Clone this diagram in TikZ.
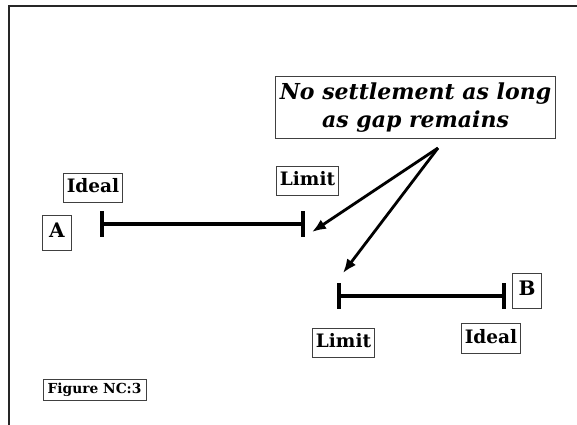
\documentclass[tikz,border=0pt]{standalone}
\usepackage{fontspec}
\setmainfont{DejaVu Serif}
\usetikzlibrary{arrows.meta,positioning}
\tikzset{
  frame/.style={line width=1.6pt, draw=black!85},
  lbl/.style={draw=black!75, line width=0.8pt, font=\bfseries\fontsize{18.5}{20}\selectfont,
    inner xsep=3.5pt, inner ysep=6pt, text height=13.5pt, text depth=4pt},
  end/.style={lbl, font=\bfseries\fontsize{20}{22}\selectfont, inner sep=0pt,
    minimum width=29pt, minimum height=35pt},
  note/.style={draw=black!75, line width=0.8pt, align=center, inner xsep=4.5pt, inner ysep=6pt,
    font=\bfseries\itshape\fontsize{22}{28}\selectfont},
  fig/.style={draw=black!75, line width=0.8pt, font=\bfseries\fontsize{13.8}{15}\selectfont,
    inner xsep=4.5pt, inner ysep=4pt, text height=10pt, text depth=3pt},
  bar/.style={line width=3.8pt},
  arr/.style={line width=2.8pt, -{Latex[length=14pt,width=11pt]}}
}
\begin{document}
\begin{tikzpicture}[x=1pt, y=-1pt]
\useasboundingbox (0,0) rectangle (577,424);
\draw[frame] (9,440) -- (9,6) -- (590,6);

\node[note] (N) at (415.5,107.5) {No settlement as long\\as gap remains};

% first party
\node[end] (A) at (57,232.5) {A};
\node[lbl] (IA) at (93,188) {Ideal};
\node[lbl] (LA) at (307.5,181) {Limit};
\coordinate (a1) at (102,224);
\coordinate (a2) at (303,224);
\draw[bar] (a1) -- (a2);
\draw[bar] ([yshift=13pt]a1) -- ([yshift=-13pt]a1);
\draw[bar] ([yshift=13pt]a2) -- ([yshift=-13pt]a2);

% second party
\node[end] (B) at (527,291) {B};
\node[lbl] (LB) at (343.5,343) {Limit};
\node[lbl] (IB) at (491,338.5) {Ideal};
\coordinate (b1) at (339,296);
\coordinate (b2) at (504,296);
\draw[bar] (b1) -- (b2);
\draw[bar] ([yshift=13pt]b1) -- ([yshift=-13pt]b1);
\draw[bar] ([yshift=13pt]b2) -- ([yshift=-13pt]b2);

% gap arrows
\coordinate (s) at (438,148);
\coordinate (t1) at (312,232);
\coordinate (t2) at (343,273);
\draw[arr] (s) -- (t1);
\draw[arr] (s) -- (t2);

\node[fig] (F) at (94.5,389.5) {Figure NC:3};
\end{tikzpicture}
\end{document}
